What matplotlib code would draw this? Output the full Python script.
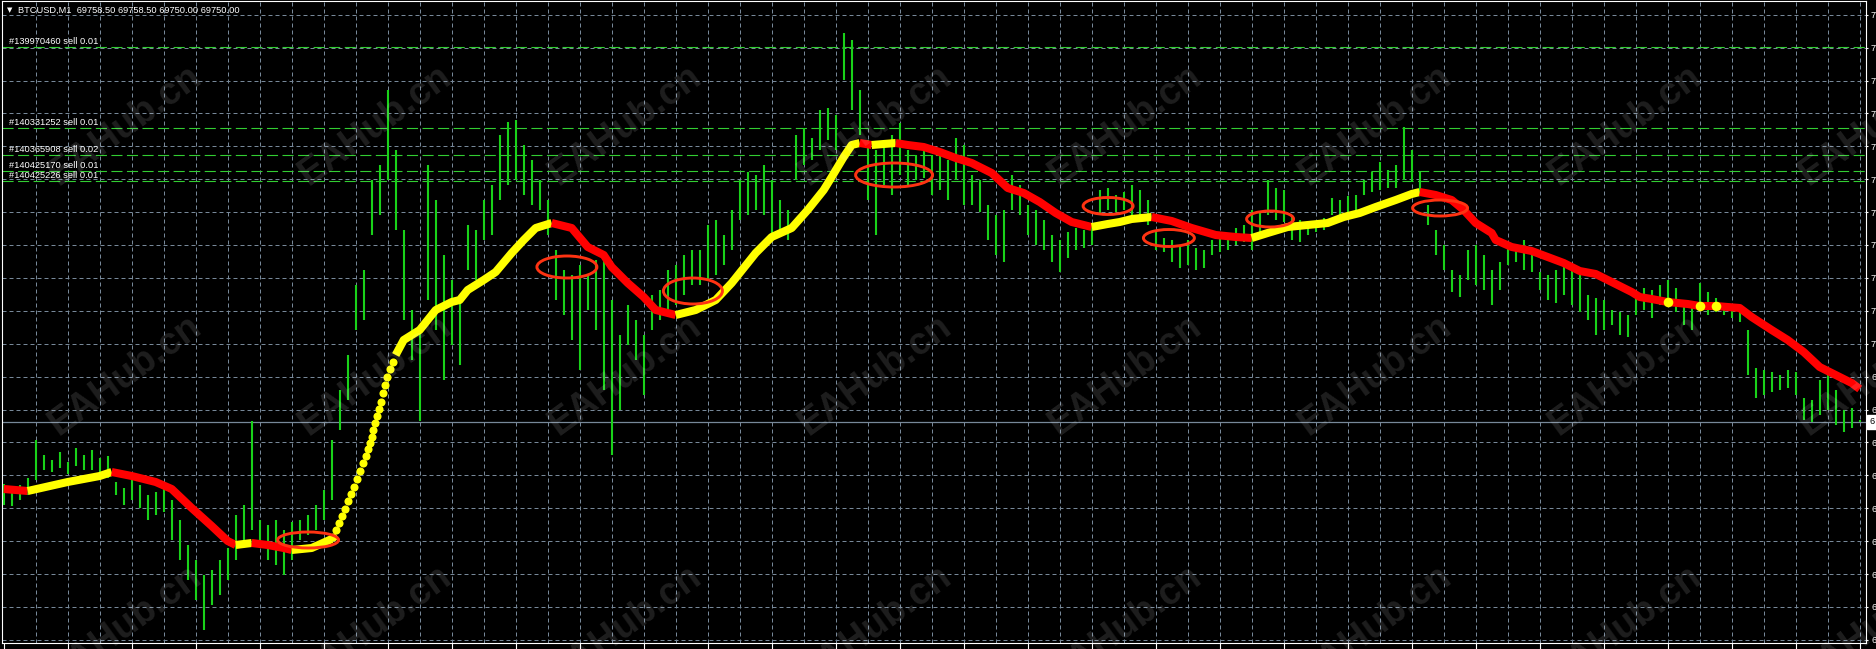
import numpy as np
import matplotlib
matplotlib.use("Agg")
import matplotlib.pyplot as plt
import matplotlib.transforms as mtransforms
from matplotlib.patches import Ellipse
from matplotlib.ticker import FuncFormatter

plt.rcParams['font.family'] = ['Liberation Sans', 'DejaVu Sans']

W, H = 1876, 649

# --- header / quote ---
symbol = "BTCUSD,M1"
last_ohlc = [69758.50, 69758.50, 69750.00, 69750.00]
bid = 69750.00

# --- M1 bars (every second bar), high / low ---
bar_minute = list(range(0, 465, 2))
bar_high = [
    69440, 69410, 69435, 69470, 69660, 69585, 69560, 69600, 69550, 69620,
    69585, 69610, 69570, 69580, 69450, 69420, 69460, 69435, 69385, 69400,
    69420, 69360, 69260, 69135, 69060, 68985, 69010, 69060, 69120, 69285,
    69335, 69755, 69260, 69235, 69260, 69210, 69250, 69260, 69285, 69335,
    69410, 69660, 69910, 70085, 70435, 70510, 70960, 71035, 71410, 71110,
    70710, 70310, 70210, 71035, 70860, 70585, 70460, 70360, 70735, 70710,
    70860, 70935, 71185, 71250, 71260, 71135, 71060, 70960, 70860, 70610,
    70510, 70485, 70535, 70485, 70560, 70585, 70360, 70185, 70335, 70260,
    70185, 70385, 70410, 70510, 70535, 70585, 70610, 70610, 70735, 70760,
    70685, 70810, 70960, 71000, 70985, 71035, 70960, 70860, 70810, 71185,
    71220, 71170, 71310, 71320, 71285, 71695, 71660, 71410, 71160, 71110,
    71160, 71185, 71245, 71110, 71085, 71110, 71085, 71110, 71060, 71170,
    71135, 70985, 70960, 70835, 70785, 70810, 70985, 70935, 70835, 70810,
    70760, 70685, 70660, 70700, 70720, 70710, 70735, 70910, 70920, 70885,
    70900, 70935, 70910, 70860, 70700, 70670, 70660, 70635, 70660, 70620,
    70610, 70660, 70670, 70685, 70720, 70735, 70810, 70800, 70960, 70920,
    70910, 70785, 70760, 70750, 70750, 70770, 70870, 70860, 70880, 70885,
    70960, 71000, 71050, 71010, 71035, 71225, 71110, 71000, 70835, 70710,
    70635, 70510, 70485, 70610, 70635, 70585, 70510, 70550, 70620, 70635,
    70660, 70585, 70500, 70485, 70510, 70535, 70520, 70500, 70385, 70370,
    70360, 70310, 70300, 70285, 70385, 70420, 70410, 70435, 70460, 70420,
    70360, 70350, 70445, 70400, 70370, 70335, 70330, 70310, 70210, 70020,
    70010, 70000, 69985, 70010, 70000, 69870, 69860, 69960, 69985, 69910,
    69810, 69820, 69758.5]
bar_low = [
    69335, 69330, 69360, 69385, 69460, 69510, 69500, 69520, 69490, 69530,
    69510, 69510, 69500, 69470, 69385, 69335, 69360, 69320, 69260, 69285,
    69300, 69160, 69060, 68960, 68860, 68710, 68835, 68885, 68960, 69060,
    69160, 69210, 69135, 69060, 69035, 68985, 69060, 69160, 69185, 69210,
    69260, 69360, 69710, 69860, 70210, 70260, 70685, 70785, 70960, 70710,
    70260, 70060, 69755, 70360, 70210, 69960, 70135, 70035, 70510, 70460,
    70660, 70685, 70860, 70935, 70960, 70885, 70835, 70810, 70685, 70360,
    70285, 70160, 70010, 70310, 70210, 69910, 69585, 69810, 70135, 70060,
    69885, 70210, 70260, 70310, 70335, 70385, 70435, 70435, 70460, 70485,
    70535, 70610, 70760, 70785, 70810, 70785, 70685, 70710, 70660, 70960,
    71035, 71060, 71110, 71160, 71110, 71460, 71310, 71185, 70860, 70685,
    70935, 70885, 70985, 70935, 70960, 70970, 70885, 70910, 70860, 70960,
    70835, 70835, 70800, 70660, 70585, 70550, 70810, 70785, 70685, 70635,
    70610, 70550, 70500, 70570, 70610, 70620, 70635, 70785, 70810, 70800,
    70810, 70785, 70750, 70735, 70610, 70600, 70550, 70520, 70535, 70510,
    70520, 70585, 70600, 70610, 70635, 70650, 70610, 70685, 70785, 70760,
    70750, 70660, 70650, 70685, 70700, 70710, 70785, 70770, 70800, 70810,
    70885, 70900, 70910, 70920, 70920, 70960, 70950, 70885, 70735, 70585,
    70510, 70400, 70375, 70460, 70435, 70410, 70335, 70410, 70535, 70550,
    70510, 70500, 70410, 70360, 70345, 70385, 70335, 70300, 70260, 70185,
    70210, 70235, 70185, 70175, 70285, 70310, 70270, 70335, 70350, 70300,
    70235, 70210, 70335, 70285, 70300, 70285, 70270, 70250, 69985, 69870,
    69885, 69900, 69910, 69920, 69885, 69760, 69750, 69785, 69810, 69735,
    69700, 69720, 69750]

# --- trend MA: value per minute, colour of the segment to the next point ---
# R = falling (red), Y = rising (yellow), - = no line (drawn as dots)
ma_minute = [
    0, 6, 16, 24, 27, 32, 38, 42, 47, 52, 56, 58, 62, 66, 70, 72, 77, 82,
    98, 100, 104, 108, 112, 114, 116, 120, 123, 127, 130, 133,
    137, 142, 146, 150, 152, 156, 160, 163,
    168, 173, 178, 182, 186, 188, 192, 197, 201, 205, 207, 210, 212,
    214, 217,
    223, 226, 230, 234, 238, 242, 247, 251, 255, 259, 263, 267,
    272, 276, 279, 282,
    287, 292, 297, 303, 308,
    312, 316, 321, 326, 331, 335, 339, 343, 348, 352,
    354, 358, 362, 365, 368, 372, 373, 377, 382, 386, 390, 394, 398, 402,
    407, 409, 412, 416, 421, 424, 428, 434, 437, 442, 446, 450, 454, 458,
    462, 464]
ma_price = [
    69415, 69405, 69450, 69480, 69500, 69480, 69450, 69415, 69320, 69230,
    69155, 69135, 69145, 69135, 69120, 69110, 69120, 69165,
    70085, 70160, 70210, 70310, 70350, 70360, 70410, 70460, 70500, 70595,
    70660, 70720,
    70745, 70720, 70625, 70585, 70525, 70445, 70375, 70310,
    70285, 70310, 70360, 70445, 70545, 70595, 70675, 70720, 70810, 70910,
    70975, 71075, 71135,
    71145, 71135,
    71145, 71135, 71125, 71100, 71070, 71045, 70995, 70920, 70895, 70850,
    70795, 70750,
    70725, 70740, 70750, 70765,
    70775, 70755, 70720, 70685, 70675,
    70670, 70695, 70725, 70735, 70745, 70775, 70795, 70825, 70860, 70890,
    70900, 70885, 70860, 70810, 70745, 70695, 70660, 70625, 70605, 70575,
    70545, 70505, 70490, 70450, 70400, 70375, 70365, 70350, 70340, 70330,
    70330, 70320, 70275, 70210, 70160, 70100, 70025, 69985, 69945, 69915]
ma_color = ("RYYYRRRRRRRYRRRYY-" + "Y" * 12 + "R" * 8 + "Y" * 13 + "RY"
            + "R" * 12 + "Y" * 4 + "R" * 5 + "Y" * 10 + "R" * 30)

# fast rising stretch: MA drawn as separate dots
dot_minute = [82.3, 83.1, 83.8, 84.6, 85.3, 86.1, 86.8, 87.6, 88.3, 89.1,
              89.8, 90.5, 91.1, 91.6, 92.0, 92.4, 92.8, 93.3, 93.8, 94.3,
              94.8, 95.3, 95.9, 96.6, 97.3]
dot_price = [69175, 69210, 69245, 69280, 69315, 69355, 69390, 69425, 69465,
             69505, 69545, 69580, 69615, 69645, 69675, 69710, 69745, 69780,
             69815, 69850, 69895, 69935, 69975, 70015, 70050]

# short yellow flips on the last red leg
flip_minute = [416, 424, 428]
flip_price = [70350, 70330, 70330]

# hand drawn red rings (centre, span in minutes, span in price)
ring_minute = [76.1, 140.8, 172.3, 222.6, 276.1, 291.3, 316.6, 359.1]
ring_price = [69160, 70525, 70405, 70985, 70830, 70670, 70765, 70820]
ring_span = [15.25, 15.0, 14.75, 19.25, 12.5, 12.75, 11.75, 13.75]
ring_range = [80, 110, 130, 120, 85, 85, 80, 80]

# open orders
order_ticket = ["139970460", "140331252", "140365908", "140425170", "140425226"]
order_lots = [0.01, 0.01, 0.02, 0.01, 0.01]
order_price = [71625, 71220, 71085, 71005, 70955]

# MT4 grid is pixel based: 20 rows, 58 columns (every 8 bars)
grid_price = 71786.5 - 164.5 * np.arange(20)
grid_minute = list(range(8, 465, 8))
time_ticks = list(range(0, 465, 16))

GRID = '#778899'
BAR = '#19d219'
ORDER = '#32cd32'
FS = 6.7

fig = plt.figure(figsize=(W / 100, H / 100), dpi=100, facecolor='black')
ax = fig.add_axes([2 / W, 6 / H, 1864 / W, 642 / H])
ax.set_facecolor('black')
ax.set_xlim(-0.425, 465.575)
ax.set_ylim(68645, 71855)

for p in grid_price:
    ax.axhline(p, color=GRID, lw=0.72, dashes=(4, 3), zorder=1)
for t in grid_minute:
    ax.axvline(t, color=GRID, lw=0.72, dashes=(4, 3), zorder=1)

for p in order_price:
    ax.axhline(p, color=ORDER, lw=0.8, dashes=(10, 4), zorder=2)
ax.axhline(bid, color=GRID, lw=0.9, zorder=2)

# bars
ax.vlines(bar_minute, bar_low, bar_high, colors=BAR, lw=1.5, zorder=3)

# MA, split into coloured runs
colors = {'R': '#ff0000', 'Y': '#ffff00'}
start = 0
for i in range(1, len(ma_minute)):
    last = i == len(ma_minute) - 1
    if last or ma_color[i] != ma_color[start]:
        if ma_color[start] in colors:
            ax.plot(ma_minute[start:i + 1], ma_price[start:i + 1],
                    color=colors[ma_color[start]], lw=5.8,
                    solid_capstyle='butt', solid_joinstyle='round', zorder=4)
        start = i
ax.scatter(dot_minute, dot_price, s=34, color='#ffff00', lw=0, zorder=4)
ax.scatter(flip_minute, flip_price, s=48, color='#ffff00', lw=0, zorder=5)

for t, p, w, h in zip(ring_minute, ring_price, ring_span, ring_range):
    ax.add_patch(Ellipse((t, p), w, h, fill=False, ec='#ff3312', lw=2.1,
                         zorder=6))

# order labels
ybl = mtransforms.blended_transform_factory(ax.transAxes, ax.transData)
for tk, lot, p in zip(order_ticket, order_lots, order_price):
    ax.annotate(f"#{tk} sell {lot:.2f}", xy=(0, p), xycoords=ybl,
                xytext=(7, 5.7), textcoords='offset pixels', ha='left',
                va='center', color='white', fontsize=FS, zorder=7)

# frame and scales (price scale is cut by the window: only the lead digit shows)
for s in ax.spines.values():
    s.set_color('white')
    s.set_linewidth(0.8)
ax.set_xticks(time_ticks)
ax.tick_params(axis='x', direction='out', length=4.3, width=0.8,
               color='white', labelbottom=False)
ax.yaxis.tick_right()
ax.set_yticks(grid_price)
ax.yaxis.set_major_formatter(FuncFormatter(lambda v, _: f"{v:.2f}"[0]))
ax.tick_params(axis='y', direction='out', length=1.6, width=0.8,
               color='white', labelcolor='white', labelsize=FS, pad=2)

ax.text(1.0 + 3 / 1864, bid, f"{bid:.2f}"[0], transform=ybl, ha='left',
        va='center', fontsize=FS, color='black', clip_on=False, zorder=10,
        bbox=dict(boxstyle='square,pad=0.25', fc='white', ec='white'))

# header
fig.text(7 / W, 1 - 10 / H, "\u25bc", fontsize=5, color='white', va='center',
         family='DejaVu Sans')
fig.text(18 / W, 1 - 10 / H,
         f"{symbol}  " + " ".join(f"{v:.2f}" for v in last_ohlc),
         fontsize=FS, color='white', va='center')

# watermark
for cy in [125, 375, 625]:
    for cx in range(125, 1900, 250):
        fig.text(cx / W, 1 - cy / H, "EAHub.cn", rotation=36,
                 rotation_mode='anchor', ha='center', va='center',
                 fontsize=27, fontweight='bold', color='white', alpha=0.12,
                 zorder=20)

fig.savefig('out.png', dpi=100, facecolor='black')
